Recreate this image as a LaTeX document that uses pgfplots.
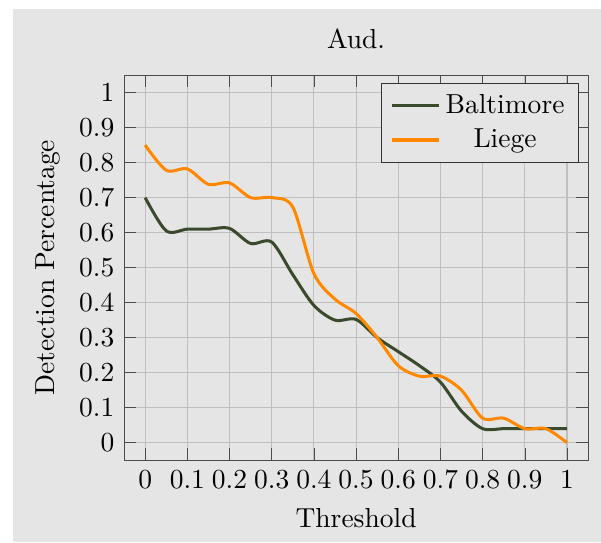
\documentclass[border=0pt]{standalone}
\usepackage{pgfplots}
\pgfplotsset{compat=1.18}
\usetikzlibrary{backgrounds}
\definecolor{bgray}{RGB}{229,229,229}
\definecolor{balt}{RGB}{59,74,44}
\definecolor{liege}{RGB}{255,136,0}
\begin{document}
\begin{tikzpicture}
\useasboundingbox (-45.1pt,-29.8pt) rectangle (173.4pt,167.3pt);
\fill[bgray] (-40.4pt,-29.8pt) rectangle (173.4pt,164.0pt);
\begin{axis}[
  at={(0pt,0pt)}, anchor=south west,
  width=168.7pt, height=140pt, scale only axis,
  xmin=-0.05, xmax=1.05, ymin=-0.05, ymax=1.05,
  xtick={0,0.1,...,1}, ytick={0,0.1,...,1},
  xticklabels={0,0.1,0.2,0.3,0.4,0.5,0.6,0.7,0.8,0.9,1},
  yticklabels={0,0.1,0.2,0.3,0.4,0.5,0.6,0.7,0.8,0.9,1},
  grid=major,
  major grid style={color=black!25, line width=0.4pt},
  axis line style={black!70},
  tick style={black!70},
  axis background/.style={fill=bgray},
  title={Aud.},
  xlabel={Threshold},
  ylabel={Detection Percentage},
  legend cell align=center,
  legend style={fill=bgray, draw=black!80, at={(0.98,0.98)}, anchor=north east},
]
\addplot[balt, line width=1.1pt, smooth] coordinates {
(0,0.70) (0.05,0.605) (0.1,0.61) (0.15,0.61) (0.2,0.612) (0.25,0.569) (0.3,0.573)
(0.35,0.48) (0.4,0.392) (0.45,0.35) (0.5,0.352) (0.55,0.30) (0.6,0.26) (0.65,0.22)
(0.7,0.173) (0.75,0.09) (0.8,0.04) (0.85,0.04) (0.9,0.04) (0.95,0.04) (1,0.04)
};
\addlegendentry{Baltimore}
\addplot[liege, line width=1.1pt, smooth] coordinates {
(0,0.85) (0.05,0.778) (0.1,0.782) (0.15,0.738) (0.2,0.742) (0.25,0.70) (0.3,0.70)
(0.35,0.673) (0.4,0.483) (0.45,0.41) (0.5,0.369) (0.55,0.30) (0.6,0.22) (0.65,0.19)
(0.7,0.19) (0.75,0.15) (0.8,0.07) (0.85,0.07) (0.9,0.04) (0.95,0.04) (1,0.0)
};
\addlegendentry{Liege}
\end{axis}
\end{tikzpicture}
\end{document}
